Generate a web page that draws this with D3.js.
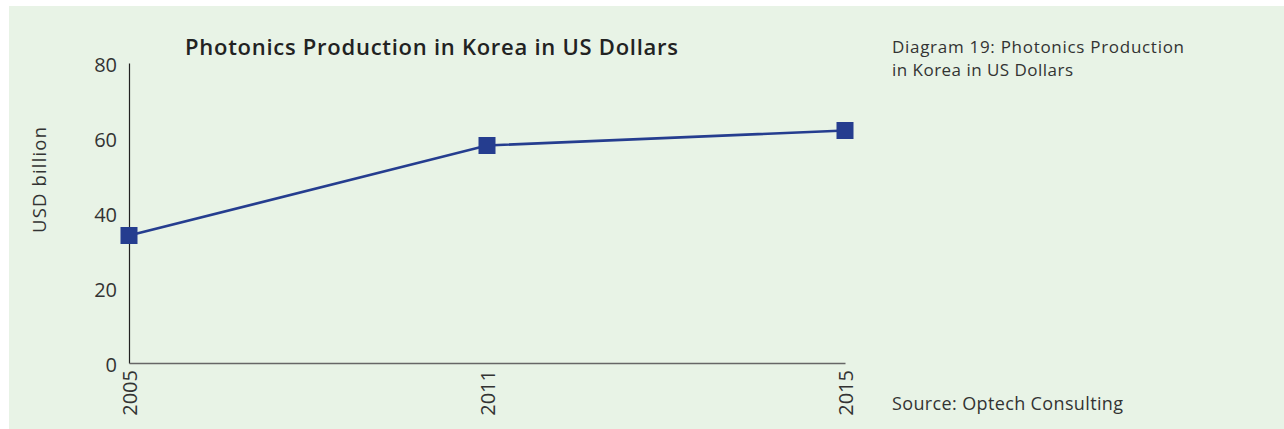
<!DOCTYPE html>
<meta charset="utf-8">
<style>
body { margin: 0; background: #fff; }
svg text { font-family: "Open Sans", sans-serif; fill: #333; }
</style>
<svg width="1284" height="429"></svg>
<script src="https://d3js.org/d3.v7.min.js"></script>
<script>
// data
var years = ["2005", "2011", "2015"];
var values = [34, 58, 62];
var yTicks = [0, 20, 40, 60, 80];

var svg = d3.select("svg");

// light green panel
svg.append("rect")
    .attr("x", 9).attr("y", 6)
    .attr("width", 1275).attr("height", 423)
    .attr("fill", "#e8f3e6");

var x = d3.scalePoint().domain(years).range([129, 845]);
var y = d3.scaleLinear().domain([0, 80]).range([363, 63]);

// y axis
var yAxis = svg.append("g")
    .attr("transform", "translate(129,0)")
    .call(d3.axisLeft(y).tickValues(yTicks).tickSize(0).tickPadding(12));
yAxis.select(".domain").attr("stroke", "#222").attr("stroke-width", 1.2);
yAxis.selectAll("text")
    .attr("font-size", 20).attr("fill", "#333")
    .attr("font-family", "'Open Sans', sans-serif")
    .attr("dy", "0.4em");

// x axis
var xAxis = svg.append("g")
    .attr("transform", "translate(0,363)")
    .call(d3.axisBottom(x).tickSize(0));
xAxis.select(".domain").attr("stroke", "#666").attr("stroke-width", 1.5);
xAxis.selectAll("text")
    .attr("font-size", 20).attr("fill", "#333")
    .attr("font-family", "'Open Sans', sans-serif")
    .attr("transform", "rotate(-90)")
    .attr("text-anchor", "end")
    .attr("x", -7).attr("y", 0).attr("dy", "0.36em");

// line
var line = d3.line()
    .x(function(d, i) { return x(years[i]); })
    .y(function(d) { return y(d); });

svg.append("path")
    .datum(values)
    .attr("d", line)
    .attr("fill", "none")
    .attr("stroke", "#253d8f")
    .attr("stroke-width", 2.6);

// square markers
svg.selectAll("rect.marker")
    .data(values)
    .enter().append("rect")
    .attr("class", "marker")
    .attr("x", function(d, i) { return x(years[i]) - 8.5; })
    .attr("y", function(d) { return y(d) - 8.5; })
    .attr("width", 17).attr("height", 17)
    .attr("fill", "#253d8f");

// titles (textLength stretches the spacing to the width of the original font)
svg.append("text")
    .attr("x", 185).attr("y", 55)
    .attr("font-size", 22).attr("font-weight", 600)
    .attr("textLength", 493).attr("lengthAdjust", "spacing")
    .style("fill", "#222")
    .text("Photonics Production in Korea in US Dollars");

svg.append("text")
    .attr("transform", "translate(46,180) rotate(-90)")
    .attr("text-anchor", "middle")
    .attr("font-size", 18.5)
    .attr("textLength", 106).attr("lengthAdjust", "spacing")
    .text("USD billion");

svg.append("text")
    .attr("x", 892).attr("y", 53)
    .attr("font-size", 17)
    .attr("textLength", 292).attr("lengthAdjust", "spacing")
    .text("Diagram 19: Photonics Production");
svg.append("text")
    .attr("x", 892).attr("y", 76)
    .attr("font-size", 17)
    .attr("textLength", 181).attr("lengthAdjust", "spacing")
    .text("in Korea in US Dollars");

svg.append("text")
    .attr("x", 892).attr("y", 410)
    .attr("font-size", 18)
    .attr("textLength", 231).attr("lengthAdjust", "spacing")
    .text("Source: Optech Consulting");
</script>
